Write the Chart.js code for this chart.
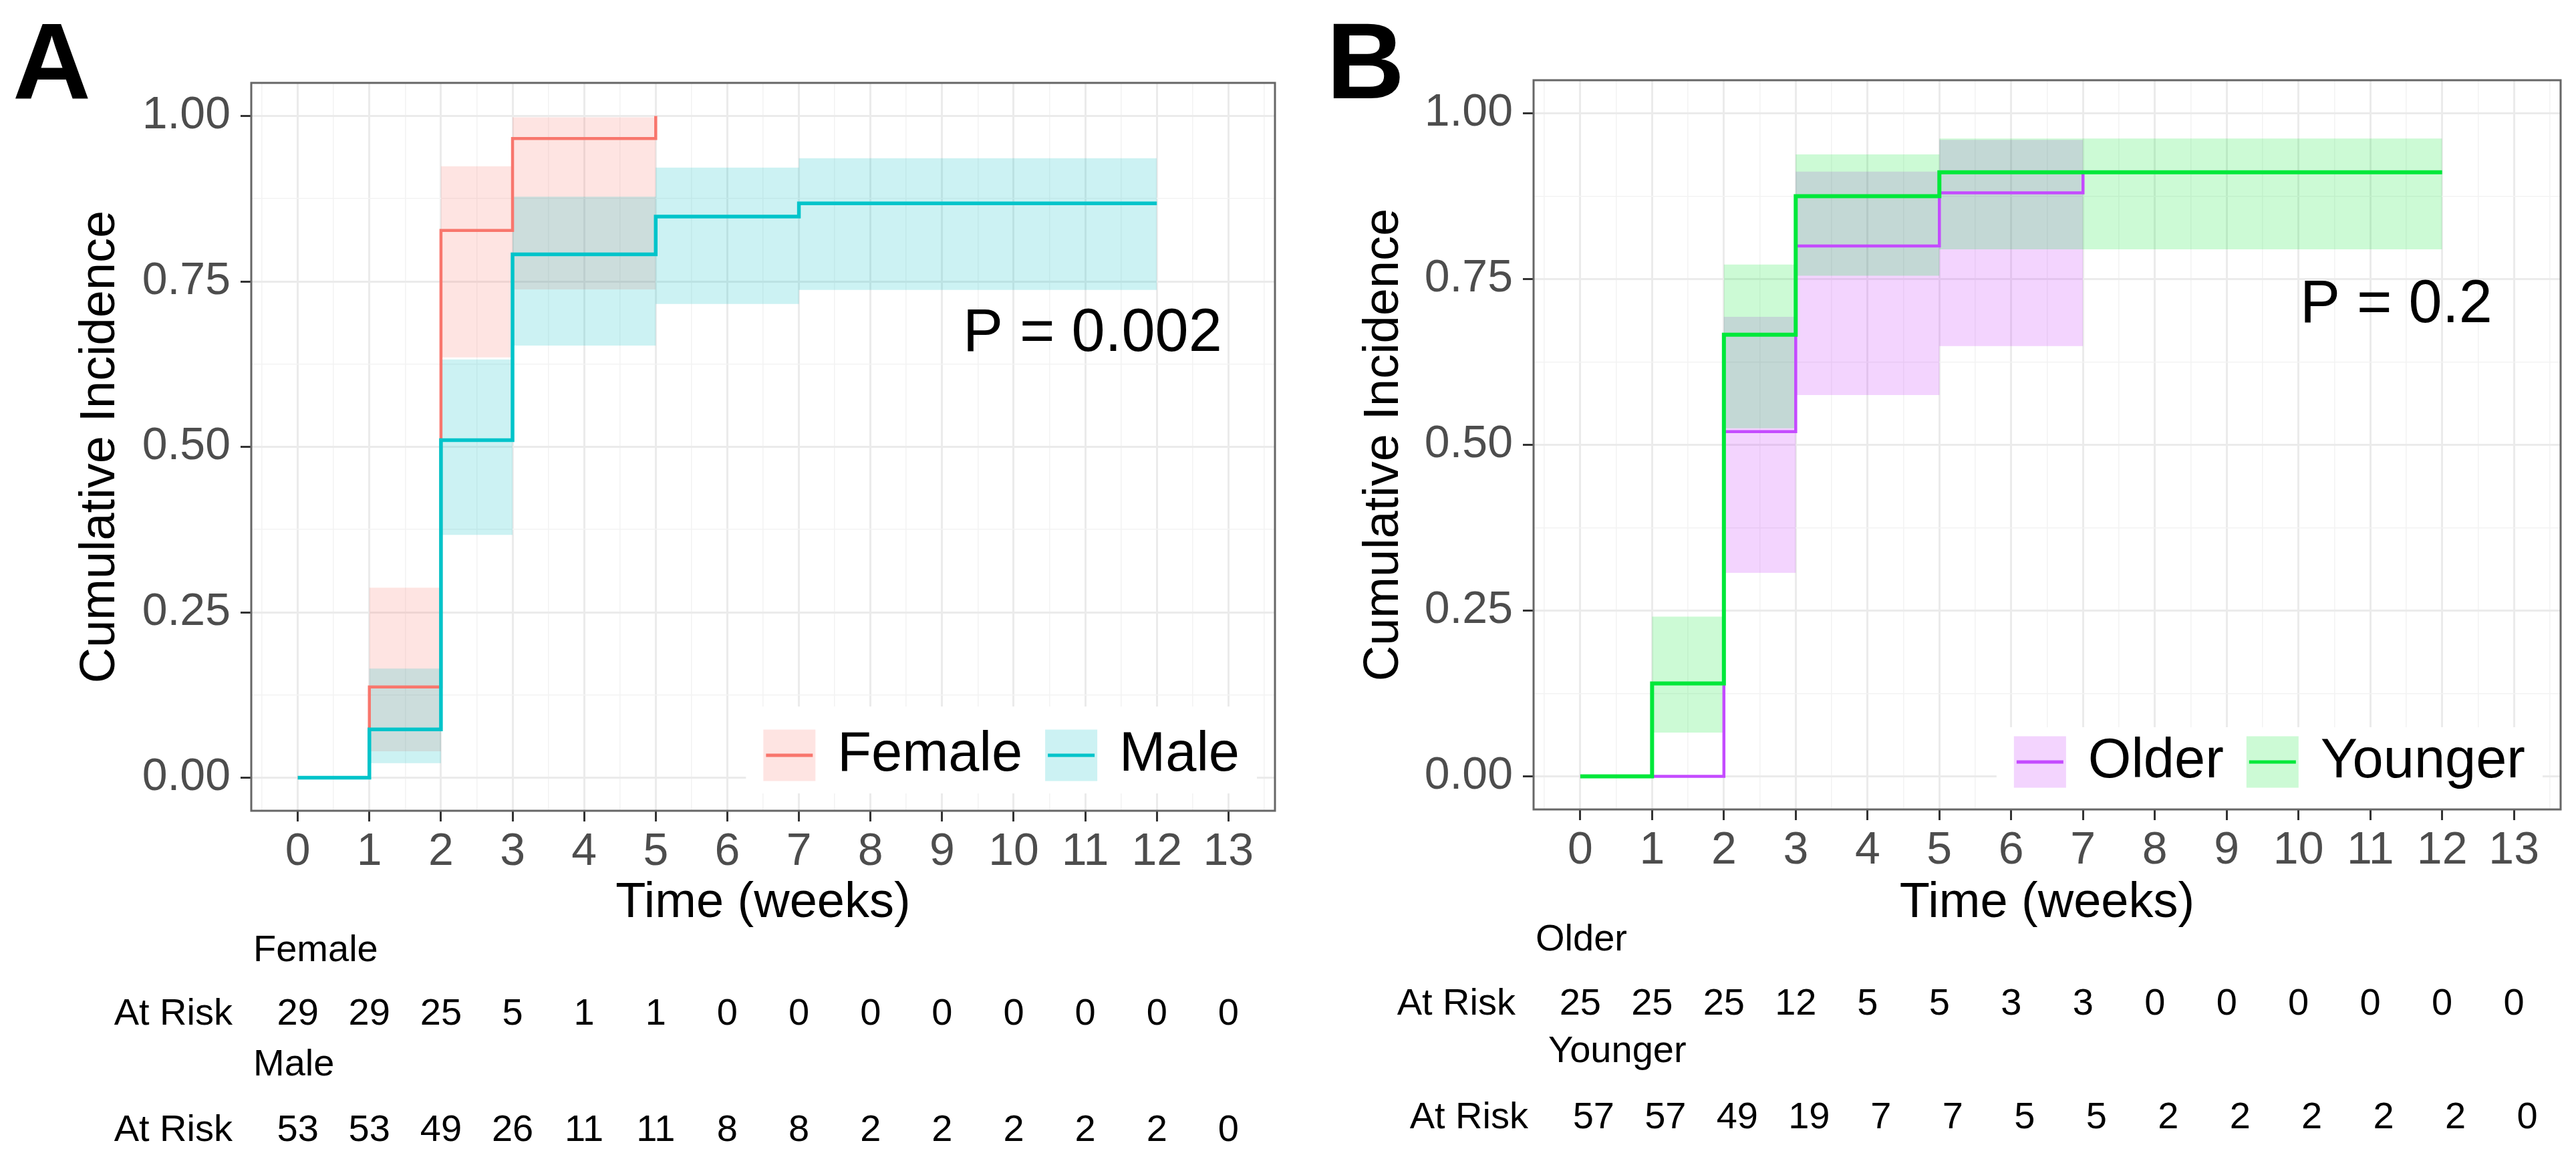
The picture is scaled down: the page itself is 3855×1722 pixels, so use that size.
<!DOCTYPE html>
<html>
<head>
<meta charset="utf-8">
<script src="https://cdn.jsdelivr.net/npm/chart.js@4.4.1/dist/chart.umd.min.js"></script>
<style>
  html, body { margin: 0; padding: 0; background: #fff; }
  #wrap { position: relative; width: 3855px; height: 1722px; }
  canvas { position: absolute; top: 0; }
  #panelA { left: 0; width: 1928px; height: 1722px; }
  #panelB { left: 1928px; width: 1927px; height: 1722px; }
</style>
</head>
<body>
<div id="wrap">
  <canvas id="panelA" width="1928" height="1722"></canvas>
  <canvas id="panelB" width="1927" height="1722"></canvas>
</div>
<script>
const FONT = '"Liberation Sans", Arial, Helvetica, sans-serif';

// time axis (weeks) and y tick labels
const weeks = [0, 1, 2, 3, 4, 5, 6, 7, 8, 9, 10, 11, 12, 13];
const yTicks = [0, 0.25, 0.5, 0.75, 1];

// Panel A - sex (step times, estimate, 95% band)
const femaleTimes = [0, 1, 2, 3, 5];
const femaleEst   = [0, 0.137, 0.827, 0.966, 1.0];
const femaleUpper = [0, 0.287, 0.924, 0.998, 1.0];
const femaleLower = [0, 0.040, 0.635, 0.738, 0.738];

const maleTimes = [0, 1, 2, 3, 5, 7, 12];
const maleEst   = [0, 0.073, 0.510, 0.791, 0.848, 0.868, 0.868];
const maleUpper = [0, 0.165, 0.632, 0.878, 0.922, 0.936, 0.936];
const maleLower = [0, 0.022, 0.367, 0.653, 0.716, 0.737, 0.737];

const femaleAtRisk = [29, 29, 25, 5, 1, 1, 0, 0, 0, 0, 0, 0, 0, 0];
const maleAtRisk   = [53, 53, 49, 26, 11, 11, 8, 8, 2, 2, 2, 2, 2, 0];

// Panel B - age
const olderTimes = [0, 2, 3, 5, 7];
const olderEst   = [0, 0.520, 0.800, 0.880, 0.914];
const olderUpper = [0, 0.693, 0.912, 0.960, 0.960];
const olderLower = [0, 0.307, 0.575, 0.649, 0.649];

const youngerTimes = [0, 1, 2, 3, 5, 12];
const youngerEst   = [0, 0.140, 0.666, 0.875, 0.911, 0.911];
const youngerUpper = [0, 0.241, 0.772, 0.938, 0.962, 0.962];
const youngerLower = [0, 0.066, 0.525, 0.755, 0.795, 0.795];

const olderAtRisk   = [25, 25, 25, 12, 5, 5, 3, 3, 0, 0, 0, 0, 0, 0];
const youngerAtRisk = [57, 57, 49, 19, 7, 7, 5, 5, 2, 2, 2, 2, 2, 0];

// colours
const COL = {
  female: '#F8766D', femaleFill: 'rgba(248,118,109,0.2)',
  male: '#00C4CA',   maleFill: 'rgba(0,191,196,0.2)',
  older: '#C44BFF',  olderFill: 'rgba(200,60,250,0.22)',
  younger: '#00E83A', youngerFill: 'rgba(0,230,45,0.2)'
};

// grid: major at labelled ticks, minor half way between (ggplot style)
function withMinors(major) {
  const step = major[1] - major[0];
  const out = [major[0] - step / 2];
  major.forEach(v => { out.push(v, v + step / 2); });
  return out;
}
const xGrid = withMinors(weeks);
const yGrid = withMinors(yTicks).filter(v => v > -0.05 && v < 1.05);

const pts = (times, vals) => times.map((t, i) => ({ x: t, y: vals[i] }));

function stepLine(label, times, vals, color, width, order) {
  return { label, data: pts(times, vals), stepped: 'before', borderColor: color,
    borderWidth: width, pointRadius: 0, fill: false, order };
}
function band(times, upper, lower, fillColor, order) {
  return [
    { label: 'upper', data: pts(times, upper), stepped: 'before', borderWidth: 0,
      borderColor: 'rgba(0,0,0,0)', backgroundColor: fillColor, pointRadius: 0, fill: '+1', order },
    { label: 'lower', data: pts(times, lower), stepped: 'before', borderWidth: 0,
      borderColor: 'rgba(0,0,0,0)', pointRadius: 0, fill: false, order }
  ];
}

const kmExtras = {
  id: 'kmExtras',
  afterDatasetsDraw(chart, args, o) {
    const { ctx, chartArea: a } = chart;
    const lg = o.legend;
    ctx.save();
    ctx.font = `83px ${FONT}`;
    const key = 78, gap = 33, gap2 = 34, pad = 26;
    const w = lg.items.map(it => ctx.measureText(it.label).width);
    const total = pad * 2 + lg.items.length * (key + gap) + w.reduce((s, v) => s + v, 0) + gap2 * (lg.items.length - 1);
    let x = a.right - 27 - total;
    const mid = a.bottom - lg.mid;
    ctx.fillStyle = '#fff';
    ctx.fillRect(x, a.bottom - lg.top, total, lg.top - lg.bottomGap);
    x += pad;
    lg.items.forEach((it, i) => {
      ctx.fillStyle = it.fill;
      ctx.fillRect(x, mid - 38.5, key, 77);
      ctx.strokeStyle = it.line;
      ctx.lineWidth = 5;
      ctx.beginPath();
      ctx.moveTo(x + 4, mid);
      ctx.lineTo(x + key - 4, mid);
      ctx.stroke();
      x += key + gap;
      ctx.fillStyle = '#000';
      ctx.textAlign = 'left';
      ctx.textBaseline = 'middle';
      ctx.fillText(it.label, x, mid);
      x += w[i] + gap2;
    });
    ctx.restore();
  },
  afterDraw(chart, args, o) {
    const { ctx, chartArea: a, scales } = chart;
    ctx.save();
    // panel border
    ctx.strokeStyle = '#666';
    ctx.lineWidth = 3;
    ctx.strokeRect(a.left, a.top, a.right - a.left, a.bottom - a.top);
    // p value
    ctx.fillStyle = '#000';
    ctx.font = `90px ${FONT}`;
    ctx.textAlign = 'center';
    ctx.textBaseline = 'middle';
    ctx.fillText(o.p.text, scales.x.getPixelForValue(o.p.x), scales.y.getPixelForValue(o.p.y));
    // panel letter
    ctx.font = `bold 162px ${FONT}`;
    ctx.textAlign = 'left';
    ctx.textBaseline = 'alphabetic';
    ctx.fillText(o.letter, o.letterX, 147);
    // risk table
    ctx.font = `56px ${FONT}`;
    o.risk.forEach(g => {
      ctx.textAlign = 'left';
      ctx.fillText(g.name, g.nameX, g.nameY);
      ctx.textAlign = 'right';
      ctx.fillText('At Risk', g.labelRight, g.rowY);
      ctx.textAlign = 'center';
      weeks.forEach((t, i) => ctx.fillText(String(g.values[i]), scales.x.getPixelForValue(t) + g.dx, g.rowY));
    });
    ctx.restore();
  }
};

function gridStyle(majors) {
  const isMajor = c => c.tick && majors.includes(c.tick.value);
  return {
    color: c => isMajor(c) ? '#EBEBEB' : '#F3F3F3',
    lineWidth: c => isMajor(c) ? 3 : 1.6,
    tickLength: 16,
    tickWidth: 3,
    tickColor: c => isMajor(c) ? '#333333' : 'rgba(0,0,0,0)'
  };
}

function makeChart(id, cfg) {
  return new Chart(document.getElementById(id), {
    type: 'line',
    data: { datasets: cfg.datasets },
    options: {
      responsive: false,
      devicePixelRatio: 1,
      animation: false,
      events: [],
      layout: { padding: { left: 0, top: cfg.top, right: cfg.right, bottom: 0 } },
      scales: {
        x: {
          type: 'linear', min: -0.65, max: 13.65, bounds: 'data',
          afterBuildTicks: s => { s.ticks = xGrid.map(v => ({ value: v })); },
          afterFit: s => { s.height = cfg.xHeight; },
          ticks: { autoSkip: false, maxRotation: 0, padding: 5, color: '#4D4D4D',
            font: { size: 68, family: FONT },
            callback: v => weeks.includes(v) ? String(v) : '' },
          grid: gridStyle(weeks),
          border: { display: false },
          title: { display: true, text: 'Time (weeks)', color: '#000',
            font: { size: 74, family: FONT }, padding: { top: 0, bottom: 326 } }
        },
        y: {
          type: 'linear', min: -0.05, max: 1.05, bounds: 'data',
          afterBuildTicks: s => { s.ticks = yGrid.map(v => ({ value: v })); },
          afterFit: s => { s.width = cfg.yWidth; },
          ticks: { autoSkip: false, padding: 15, color: '#4D4D4D',
            font: { size: 68, family: FONT },
            callback: v => yTicks.includes(v) ? v.toFixed(2) : '' },
          grid: gridStyle(yTicks),
          border: { display: false },
          title: { display: true, text: 'Cumulative Incidence', color: '#000',
            font: { size: 74, family: FONT }, padding: { top: cfg.yTitlePad, bottom: 0 } }
        }
      },
      plugins: {
        legend: { display: false },
        tooltip: { enabled: false },
        kmExtras: cfg.extras
      }
    },
    plugins: [kmExtras]
  });
}

makeChart('panelA', {
  top: 124, right: 20, xHeight: 509, yWidth: 376, yTitlePad: 106,
  datasets: [
    ...band(femaleTimes, femaleUpper, femaleLower, COL.femaleFill, 4),
    ...band(maleTimes, maleUpper, maleLower, COL.maleFill, 3),
    stepLine('Female', femaleTimes, femaleEst, COL.female, 4.5, 2),
    stepLine('Male', maleTimes, maleEst, COL.male, 5.5, 1)
  ],
  extras: {
    letter: 'A', letterX: 19,
    p: { text: 'P = 0.002', x: 11.1, y: 0.67 },
    legend: { mid: 83, top: 156, bottomGap: 26, items: [
      { label: 'Female', line: COL.female, fill: COL.femaleFill },
      { label: 'Male', line: COL.male, fill: COL.maleFill }
    ] },
    risk: [
      { name: 'Female', nameX: 379, nameY: 1438, labelRight: 348, rowY: 1533, dx: 0, values: femaleAtRisk },
      { name: 'Male', nameX: 379, nameY: 1609, labelRight: 348, rowY: 1707, dx: 0, values: maleAtRisk }
    ]
  }
});

makeChart('panelB', {
  top: 120, right: 23, xHeight: 511, yWidth: 367, yTitlePad: 99,
  datasets: [
    ...band(olderTimes, olderUpper, olderLower, COL.olderFill, 4),
    ...band(youngerTimes, youngerUpper, youngerLower, COL.youngerFill, 3),
    stepLine('Older', olderTimes, olderEst, COL.older, 4.5, 2),
    stepLine('Younger', youngerTimes, youngerEst, COL.younger, 6, 1)
  ],
  extras: {
    letter: 'B', letterX: 57,
    p: { text: 'P = 0.2', x: 11.36, y: 0.71 },
    legend: { mid: 71, top: 123, bottomGap: 0, items: [
      { label: 'Older', line: COL.older, fill: COL.olderFill },
      { label: 'Younger', line: COL.younger, fill: COL.youngerFill }
    ] },
    risk: [
      { name: 'Older', nameX: 370, nameY: 1422, labelRight: 340, rowY: 1518, dx: 0, values: olderAtRisk },
      { name: 'Younger', nameX: 389, nameY: 1589, labelRight: 359, rowY: 1688, dx: 20, values: youngerAtRisk }
    ]
  }
});
</script>
</body>
</html>
